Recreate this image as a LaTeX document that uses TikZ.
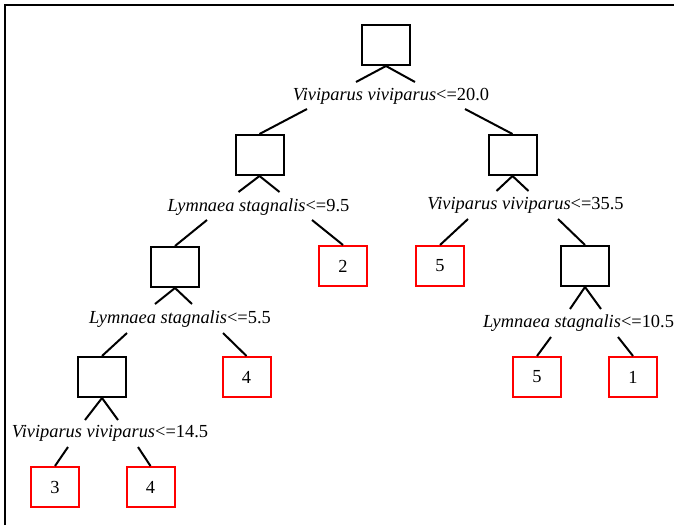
\documentclass[tikz,border=0pt]{standalone}
\usepackage{fontspec}
\setmainfont{Liberation Serif}
\usetikzlibrary{positioning,calc}

\tikzset{
  split/.style={draw,line width=2pt,minimum width=48pt,minimum height=40pt,inner sep=0pt},
  leaf/.style={split,draw=red,font=\fontsize{18.4}{20}\selectfont},
  cond/.style={inner sep=0pt,font=\fontsize{18.4}{20}\selectfont},
}

\begin{document}
\begin{tikzpicture}[x=1pt,y=-1pt]
  \useasboundingbox (0,0) rectangle (674,525);
  \draw[line width=1.6pt] (5,525) -- (5,5) -- (674,5);

  % split nodes
  \node[split] (root)  at (386,45)    {};
  \node[split] (ls95)  at (259.5,155) {};
  \node[split] (vv355) at (512.5,155) {};
  \node[split] (ls55)  at (175,267)   {};
  \node[split] (ls105) at (585,266)   {};
  \node[split] (vv145) at (102,377)   {};

  % conditions
  \node[cond] (root-label)  at (391,96)    {\textit{Viviparus viviparus}<=20.0};
  \node[cond] (ls95-label)  at (258.5,207) {\textit{Lymnaea stagnalis}<=9.5};
  \node[cond] (vv355-label) at (525.5,205) {\textit{Viviparus viviparus}<=35.5};
  \node[cond] (ls55-label)  at (180,319)   {\textit{Lymnaea stagnalis}<=5.5};
  \node[cond] (ls105-label) at (578.5,323) {\textit{Lymnaea stagnalis}<=10.5};
  \node[cond] (vv145-label) at (110,433)   {\textit{Viviparus viviparus}<=14.5};

  % leaves
  \node[leaf] (leaf2)  at (343,266) {2};
  \node[leaf] (leaf5a) at (440,266) {5};
  \node[leaf] (leaf4a) at (246.5,377) {4};
  \node[leaf] (leaf5b) at (537,377) {5};
  \node[leaf] (leaf1)  at (633,377) {1};
  \node[leaf] (leaf3)  at (55,487)  {3};
  \node[leaf] (leaf4b) at (150.5,487) {4};

  \begin{scope}[every path/.style={draw,line width=2pt}]
    % forks under the split nodes
    \draw (root.south)  -- ++(-30,16) (root.south)  -- ++(29,16);
    \draw (ls95.south)  -- ++(-21,16) (ls95.south)  -- ++(20,16);
    \draw (vv355.south) -- ++(-16,15) (vv355.south) -- ++(16,15);
    \draw (ls55.south)  -- ++(-20,16) (ls55.south)  -- ++(17,16);
    \draw (ls105.south) -- ++(-15,22) (ls105.south) -- ++(16,22);
    \draw (vv145.south) -- ++(-17,22) (vv145.south) -- ++(16,22);
    % branches to the children
    \draw ($(root-label)+(-84,13)$)    -- (ls95.north);
    \draw ($(root-label)+(74,13)$)     -- (vv355.north);
    \draw ($(ls95-label)+(-51.5,13)$)  -- (ls55.north);
    \draw ($(ls95-label)+(53.5,13)$)   -- (leaf2.north);
    \draw ($(vv355-label)+(-57.5,14)$) -- (leaf5a.north);
    \draw ($(vv355-label)+(32.5,14)$)  -- (ls105.north);
    \draw ($(ls55-label)+(-53,14)$)    -- (vv145.north);
    \draw ($(ls55-label)+(43,14)$)     -- (leaf4a.north);
    \draw ($(ls105-label)+(-27.5,14)$) -- (leaf5b.north);
    \draw ($(ls105-label)+(39.5,14)$)  -- (leaf1.north);
    \draw ($(vv145-label)+(-42,14)$)   -- (leaf3.north);
    \draw ($(vv145-label)+(28,14)$)    -- (leaf4b.north);
  \end{scope}
\end{tikzpicture}
\end{document}
